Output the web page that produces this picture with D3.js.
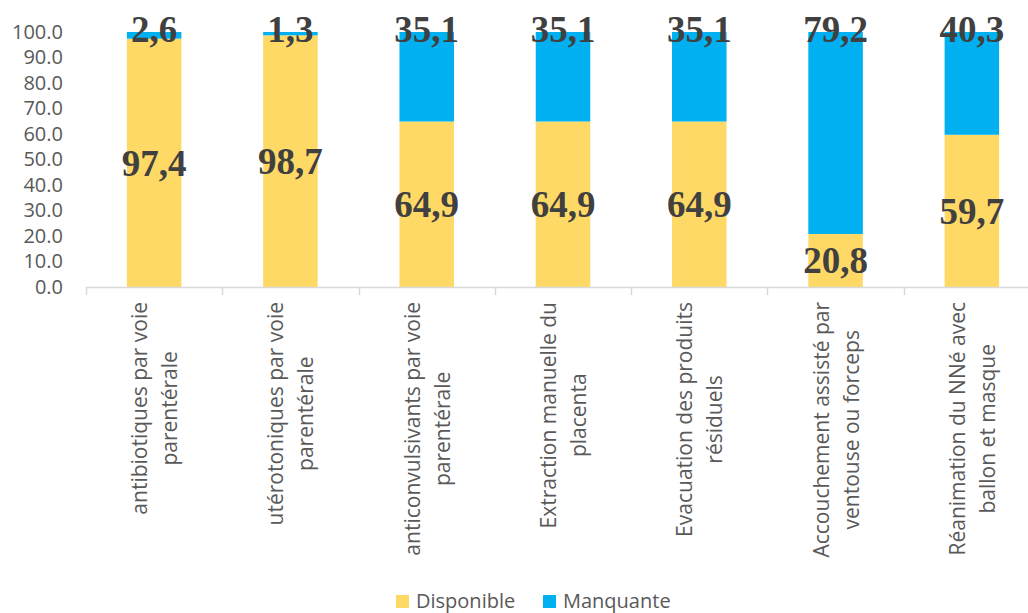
<!DOCTYPE html>
<html>
<head>
<meta charset="utf-8">
<script src="https://cdn.jsdelivr.net/npm/d3@7/dist/d3.min.js"></script>
<style>
  html, body { margin: 0; padding: 0; background: #fff; }
  svg { display: block; }
</style>
</head>
<body>
<svg id="chart" width="1028" height="613"></svg>
<script>
// Categories (one array per label line)
const categories = [
  ["antibiotiques par voie", "parentérale"],
  ["utérotoniques par voie", "parentérale"],
  ["anticonvulsivants par voie", "parentérale"],
  ["Extraction manuelle du", "placenta"],
  ["Evacuation des produits", "résiduels"],
  ["Accouchement assisté par", "ventouse ou forceps"],
  ["Réanimation du NNé avec", "ballon et masque"]
];
const disponible = [97.4, 98.7, 64.9, 64.9, 64.9, 20.8, 59.7];
const manquante  = [2.6, 1.3, 35.1, 35.1, 35.1, 79.2, 40.3];
const seriesNames = ["Disponible", "Manquante"];
const seriesColors = ["#FFD966", "#00B0F0"];
const yTicks = [0, 10, 20, 30, 40, 50, 60, 70, 80, 90, 100];

const svg = d3.select("#chart");
const plotLeft = 86, plotRight = 1040, plotTop = 32, plotBottom = 287;

const x = d3.scaleBand()
  .domain(d3.range(categories.length))
  .range([plotLeft, plotRight])
  .paddingInner(0.6)
  .paddingOuter(0.3);
const step = x.step();
const y = d3.scaleLinear().domain([0, 100]).range([plotBottom, plotTop]);

const fmt = v => d3.format(".1f")(v).replace(".", ",");

// Stacked bars
const rows = categories.map((c, i) => ({ i, Disponible: disponible[i], Manquante: manquante[i] }));
const stacked = d3.stack().keys(seriesNames)(rows);

svg.append("g").selectAll("g")
  .data(stacked)
  .join("g")
  .attr("fill", (d, k) => seriesColors[k])
  .selectAll("rect")
  .data(d => d)
  .join("rect")
  .attr("x", d => x(d.data.i))
  .attr("width", x.bandwidth())
  .attr("y", d => y(d[1]))
  .attr("height", d => y(d[0]) - y(d[1]));

// Y axis labels
const yAxis = svg.append("g")
  .attr("transform", `translate(${63},0)`)
  .call(d3.axisLeft(y).tickValues(yTicks).tickSize(0).tickPadding(0).tickFormat(d3.format(".1f")));
yAxis.select(".domain").remove();
yAxis.selectAll("text")
  .attr("fill", "#595959")
  .style("font-family", "'Open Sans', sans-serif")
  .style("font-size", "20px");

// Category axis line and tick marks
const catAxis = svg.append("g");
catAxis.append("line")
  .attr("x1", plotLeft).attr("x2", plotRight)
  .attr("y1", plotBottom + 0.5).attr("y2", plotBottom + 0.5)
  .attr("stroke", "#D9D9D9").attr("stroke-width", 1.5);
catAxis.selectAll("line.tick")
  .data(d3.range(categories.length + 1))
  .join("line")
  .attr("class", "tick")
  .attr("x1", i => Math.round(plotLeft + i * step) + 0.5)
  .attr("x2", i => Math.round(plotLeft + i * step) + 0.5)
  .attr("y1", plotBottom).attr("y2", plotBottom + 8)
  .attr("stroke", "#D9D9D9").attr("stroke-width", 1.5);

// Rotated category labels: block aligned to the top, lines centred on each other
const labelTop = 302;
const lineGap = 30;
categories.forEach((lines, i) => {
  const cx = x(i) + x.bandwidth() / 2;
  const g = svg.append("g");
  const texts = lines.map((line, j) => g.append("text")
    .text(line)
    .attr("fill", "#595959")
    .style("font-family", "'Open Sans', sans-serif")
    .style("font-size", "21px")
    .attr("text-anchor", "middle"));
  const maxW = d3.max(texts, t => t.node().getComputedTextLength());
  texts.forEach((t, j) => {
    const bx = cx + (j - (lines.length - 1) / 2) * lineGap + 8;
    const by = labelTop + maxW / 2;
    t.attr("transform", `translate(${bx},${by}) rotate(-90)`);
  });
});

// Value labels
const labelStyle = sel => sel
  .attr("fill", "#404040")
  .attr("text-anchor", "middle")
  .style("font-family", "'Liberation Serif', 'Times New Roman', serif")
  .style("font-weight", "bold")
  .style("font-size", "37px");

svg.append("g").selectAll("text")
  .data(disponible)
  .join("text")
  .attr("x", (d, i) => x(i) + x.bandwidth() / 2)
  .attr("y", d => y(d / 2) + 13)
  .text(fmt)
  .call(labelStyle);

svg.append("g").selectAll("text")
  .data(manquante)
  .join("text")
  .attr("x", (d, i) => x(i) + x.bandwidth() / 2)
  .attr("y", (d, i) => y(disponible[i] + d) + 10)
  .text(fmt)
  .call(labelStyle);

// Legend
const legendItems = [
  { name: seriesNames[0], color: seriesColors[0], x: 396 },
  { name: seriesNames[1], color: seriesColors[1], x: 543 }
];
const legend = svg.append("g");
legendItems.forEach(it => {
  legend.append("rect")
    .attr("x", it.x).attr("y", 595)
    .attr("width", 13).attr("height", 13)
    .attr("fill", it.color);
  legend.append("text")
    .attr("x", it.x + 20).attr("y", 608)
    .text(it.name)
    .attr("fill", "#595959")
    .style("font-family", "'Open Sans', sans-serif")
    .style("font-size", "20px");
});
</script>
</body>
</html>
